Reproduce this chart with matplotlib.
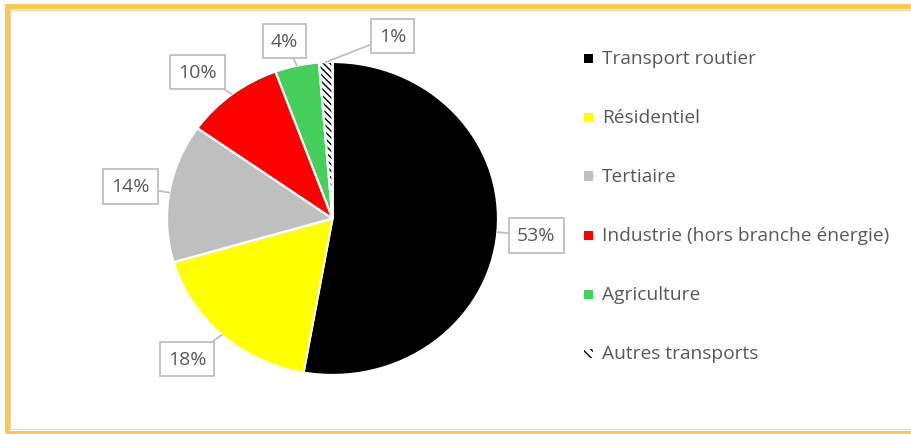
import matplotlib
matplotlib.use('Agg')
import matplotlib.pyplot as plt
from matplotlib.patches import Rectangle, Wedge
import numpy as np

categories = ["Transport routier", "Résidentiel", "Tertiaire",
              "Industrie (hors branche énergie)", "Agriculture", "Autres transports"]
values = [52.8, 17.7, 14.3, 9.6, 4.3, 1.3]
colors = ['#000000', '#FFFF00', '#BFBFBF', '#FF0000', '#44D05A', '#FFFFFF']
hatched = [False, False, False, False, False, True]

W, H = 912, 435
FONT = 'Open Sans'
TXT = '#595959'
BOX = '#BFBFBF'

fig = plt.figure(figsize=(W / 100, H / 100), dpi=100)

# frame
fig.add_artist(Rectangle((7.5 / W, (H - 433.5) / H), (915 - 7.5) / W, (433.5 - 7) / H,
                         transform=fig.transFigure, fill=False, ec='#FFC848', lw=3.6))
fig.add_artist(Rectangle((10.5 / W, (H - 430) / H), (915 - 10.5) / W, (430 - 10.5) / H,
                         transform=fig.transFigure, fill=False, ec='#D9D9D9', lw=0.8))

ax = fig.add_axes([167 / W, (H - 376) / H, 331 / W, 313 / H])
wedges, _ = ax.pie(values, colors=colors, startangle=90, counterclock=False, radius=1,
                   wedgeprops=dict(edgecolor='white', linewidth=1.6))
for w, h in zip(wedges, hatched):
    if h:
        hw = Wedge(w.center, w.r, w.theta1, w.theta2, fc='none', ec='black',
                   lw=0, hatch='\\\\\\\\\\', zorder=w.get_zorder() + 0.1)
        ax.add_patch(hw)
        ew = Wedge(w.center, w.r, w.theta1, w.theta2, fc='none', ec='white',
                   lw=1.6, zorder=w.get_zorder() + 0.2)
        ax.add_patch(ew)
ax.set_aspect('auto')
ax.set_xlim(-1, 1)
ax.set_ylim(-1, 1)
ax.axis('off')

# data labels (layout tweaks)
label_r = [1.235, 1.258, 1.237, 1.242, 1.17, 1.22]
label_shift = [0, -2.4, 0, 3.7, 1.9, -19.6]
for w, v, lr, sh in zip(wedges, values, label_r, label_shift):
    mid = (w.theta1 + w.theta2) / 2
    ang = np.deg2rad(mid + sh)
    xt, yt = lr * np.cos(ang), lr * np.sin(ang)
    m = np.deg2rad(mid)
    xp, yp = 1.0 * np.cos(m), 1.0 * np.sin(m)
    ax.annotate(f"{round(v):d}%", xy=(xp, yp), xytext=(xt, yt),
                ha='center', va='center', fontsize=14, color=TXT, family=FONT,
                annotation_clip=False,
                bbox=dict(boxstyle='square,pad=0.42', fc='white', ec=BOX, lw=1.3),
                arrowprops=dict(arrowstyle='-', color=BOX, lw=1.3, shrinkA=0, shrinkB=0))

# legend
for i, (cat, col, h) in enumerate(zip(categories, colors, hatched)):
    yc = 59 + i * 59
    r = Rectangle((584 / W, (H - yc - 4.5) / H), 9 / W, 9 / H, transform=fig.transFigure,
                  fc=col, ec='black' if h else 'none', lw=0,
                  hatch='\\\\\\\\' if h else None)
    fig.add_artist(r)
    fig.text(602 / W, (H - yc) / H, cat, ha='left', va='center', fontsize=13.8,
             color=TXT, family=FONT)

fig.savefig('out.png', dpi=100)
